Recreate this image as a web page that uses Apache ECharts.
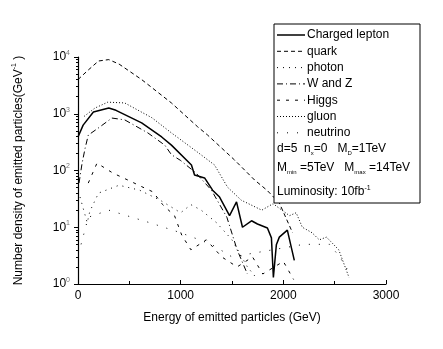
<!DOCTYPE html>
<html>
<head>
<meta charset="utf-8">
<script src="https://cdn.jsdelivr.net/npm/echarts@6/dist/echarts.min.js"></script>
<style>
  html, body { margin: 0; padding: 0; background: #fff; }
  #chart { width: 443px; height: 349px; }
</style>
</head>
<body>
<div id="chart"></div>
<script>
// energy (GeV) / number density pairs
var leptonE = [0, 50, 150, 300, 370, 620, 815, 910, 1105, 1135, 1233, 1311, 1379, 1476, 1544, 1602, 1690, 1748, 1845, 1884, 1903, 1932, 1961, 2039, 2107];
var leptonN = [390, 630, 1070, 1260, 1150, 690, 390, 280, 125, 83, 74, 45, 34, 16, 28, 10, 13, 11.4, 9.7, 6.5, 1.3, 4.9, 6.7, 8.9, 2.6];

var quarkE = [0, 100, 200, 300, 400, 620, 910, 1165, 1260, 1525, 1720, 1840, 1960, 2090];
var quarkN = [4000, 5900, 8500, 9000, 7500, 4000, 1550, 590, 425, 153, 68, 45, 27, 8];

var gluonE = [60, 165, 290, 455, 720, 910, 1165, 1330, 1456, 1590, 1790, 1900, 2060, 2125, 2185, 2280, 2350, 2420, 2540, 2640];
var gluonN = [900, 1260, 1600, 1550, 850, 460, 210, 125, 51, 30, 20, 26, 16, 18, 10, 8, 6, 6.7, 4, 1.3];

var wzE = [10, 40, 70, 100, 215, 330, 455, 680, 845, 910, 1000, 1150, 1300, 1450, 1550, 1650];
var wzN = [60, 135, 250, 420, 590, 840, 780, 460, 280, 190, 150, 90, 45, 15, 4, 1.5];

var higgsE = [100, 185, 340, 485, 650, 730, 825, 940, 1010, 1100, 1250, 1400, 1550, 1700, 1800, 2000, 2100];
var higgsN = [60, 135, 90, 68, 49, 42, 25, 16, 7.3, 4, 6, 3, 2, 3, 1.5, 2.5, 1.2];

var photonE = [20, 90, 115, 200, 400, 600, 800, 1000, 1100, 1200, 1350, 1500, 1650, 1750];
var photonN = [34, 12, 19, 40, 55, 45, 30, 18, 25, 20, 12, 6, 2, 1.2];

var neutrinoE = [30, 100, 300, 700, 1000, 1300, 1500, 2200, 2450, 2550, 2650];
var neutrinoN = [5, 15, 20, 12, 8, 5, 3, 5, 5, 3, 1.5];

var xTicks = [0, 1000, 2000, 3000];

function pairs(xs, ys) {
  return xs.map(function (x, i) { return [x, ys[i]]; });
}

var chart = echarts.init(document.getElementById('chart'));
var font = 'Liberation Sans, Arial, sans-serif';

function line(name, xs, ys, dash, width) {
  return {
    name: name, type: 'line', data: pairs(xs, ys),
    showSymbol: false, symbol: 'none', animation: false,
    lineStyle: { color: '#000', width: width || 1, type: dash }
  };
}

// legend rows (drawn by hand to get the dash styles)
var legendRows = [
  { t: 'Charged lepton', d: 'solid', w: 1.5 },
  { t: 'quark', d: [4, 3] },
  { t: 'photon', d: [1, 5] },
  { t: 'W and Z', d: [6, 3, 1, 3] },
  { t: 'Higgs', d: [3, 6] },
  { t: 'gluon', d: [1, 2] },
  { t: 'neutrino', d: [1, 9] }
];
var graphics = [{
  type: 'rect', shape: { x: 274, y: 24, width: 146, height: 179 },
  style: { fill: '#fff', stroke: '#000', lineWidth: 1 }, z: 10
}];
legendRows.forEach(function (r, i) {
  var y = 35 + i * 16.3;
  graphics.push({
    type: 'line', shape: { x1: 277, y1: y, x2: 305, y2: y }, z: 11,
    style: { stroke: '#000', lineWidth: r.w || 1, lineDash: r.d === 'solid' ? null : r.d }
  });
  graphics.push({
    type: 'text', x: 307, y: y, z: 11,
    style: { text: r.t, font: '12px ' + font, fill: '#000', verticalAlign: 'middle' }
  });
});
var rich = {
  n: { fontSize: 12, fontFamily: font, fill: '#000', color: '#000' },
  sub: { fontSize: 6, fontFamily: font, color: '#000', padding: [9, 0, 0, 0] },
  sup: { fontSize: 7, fontFamily: font, color: '#000', padding: [0, 0, 8, 0] }
};
graphics.push({
  type: 'text', x: 277, y: 149, z: 11,
  style: { text: '{n|d=5  n}{sub|x}{n|=0   M}{sub|D}{n|=1TeV}', rich: rich, verticalAlign: 'middle' }
});
graphics.push({
  type: 'text', x: 277, y: 168, z: 11,
  style: { text: '{n|M}{sub|min}{n| =5TeV   M}{sub|max}{n| =14TeV}', rich: rich, verticalAlign: 'middle' }
});
graphics.push({
  type: 'text', x: 277, y: 192, z: 11,
  style: { text: '{n|Luminosity: 10fb}{sup|-1}', rich: rich, verticalAlign: 'middle' }
});

var option = {
  backgroundColor: '#fff',
  animation: false,
  grid: { left: 78, right: 57, top: 57, bottom: 65 },
  xAxis: {
    type: 'value', min: 0, max: 3000, interval: 1000,
    name: 'Energy of emitted particles (GeV)', nameLocation: 'middle', nameGap: 28,
    nameTextStyle: { fontSize: 12, fontFamily: font, color: '#000' },
    axisLine: { lineStyle: { color: '#000', width: 1.2 } },
    axisTick: { inside: true, length: 4, lineStyle: { color: '#000' } },
    minorTick: { show: true, splitNumber: 2, length: 3, lineStyle: { color: '#000' } },
    axisLabel: {
      fontSize: 12, fontFamily: font, color: '#000', margin: 6,
      formatter: function (v) { return xTicks.indexOf(v) >= 0 ? String(v) : ''; }
    },
    splitLine: { show: false }
  },
  yAxis: {
    type: 'log', logBase: 10, min: 1, max: 10000,
    name: '{n|Number density of emitted particles(GeV}{s|-1}{n| )}',
    nameLocation: 'middle', nameGap: 52, nameRotate: 90,
    nameTextStyle: {
      rich: {
        n: { fontSize: 12, fontFamily: font, color: '#000' },
        s: { fontSize: 7, fontFamily: font, color: '#000', padding: [0, 0, 8, 0] }
      }
    },
    axisLine: { lineStyle: { color: '#000', width: 1.2 } },
    axisTick: { length: 4, lineStyle: { color: '#000' } },
    minorTick: { show: true, splitNumber: 9, length: 2, lineStyle: { color: '#000' } },
    axisLabel: {
      margin: 8,
      formatter: function (v) {
        return '{b|10}{s|' + Math.round(Math.log10(v)) + '}';
      },
      rich: {
        b: { fontSize: 12, fontFamily: font, color: '#000' },
        s: { fontSize: 7, fontFamily: font, color: '#777', padding: [0, 0, 8, 0] }
      }
    },
    splitLine: { show: false }
  },
  series: [
    line('Charged lepton', leptonE, leptonN, 'solid', 1.5),
    line('quark', quarkE, quarkN, [4, 3]),
    line('photon', photonE, photonN, [1, 5]),
    line('W and Z', wzE, wzN, [6, 3, 1, 3]),
    line('Higgs', higgsE, higgsN, [3, 6]),
    line('gluon', gluonE, gluonN, [1, 2]),
    line('neutrino', neutrinoE, neutrinoN, [1, 9])
  ],
  graphic: graphics
};
chart.setOption(option);
</script>
</body>
</html>
